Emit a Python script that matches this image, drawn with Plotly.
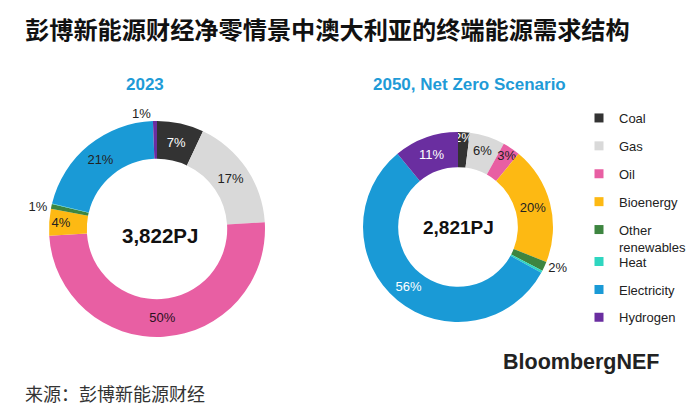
import plotly.graph_objects as go

categories = ["Coal", "Gas", "Oil", "Bioenergy", "Other<br>renewables", "Heat", "Electricity", "Hydrogen"]
colors = ["#333333", "#d9d9d9", "#e85fa3", "#fdb913", "#3d8540", "#2fd6c0", "#1a9ad6", "#6a2ea0"]
legend_ids = ["legend", "legend", "legend", "legend", "legend", "legend2", "legend2", "legend2"]

values_2023 = [7, 17, 50, 4, 0.7, 0.1, 20.6, 0.6]
values_2050 = [2, 6, 3, 20, 1.6, 0.4, 56, 11]

textpos_2023 = ["inside", "inside", "inside", "inside", "outside", "none", "inside", "outside"]
textpos_2050 = ["inside", "inside", "inside", "inside", "outside", "none", "inside", "inside"]
textcol_2023 = ["#ffffff", "#222222", "#2a1020", "#222222", "#222222", "#222222", "#222222", "#222222"]
textcol_2050 = ["#ffffff", "#222222", "#222222", "#222222", "#222222", "#222222", "#ffffff", "#ffffff"]

total_2023 = "3,822PJ"
total_2050 = "2,821PJ"

FONT = "Liberation Sans, Arial, sans-serif"
W, H = 700, 410

dom_2023 = dict(x=[49 / W, 265 / W], y=[1 - 337 / H, 1 - 121 / H])
dom_2050 = dict(x=[363 / W, 553 / W], y=[1 - 322 / H, 1 - 132 / H])

fig = go.Figure()

fig.add_trace(go.Pie(
    labels=categories, values=values_2023, sort=False, direction="clockwise", rotation=0,
    hole=0.65, marker=dict(colors=colors, line=dict(width=0)),
    texttemplate="%{percent:.0%}", textposition=textpos_2023,
    insidetextorientation="horizontal",
    insidetextfont=dict(color=textcol_2023, size=13, family=FONT),
    outsidetextfont=dict(color="#222222", size=13, family=FONT),
    domain=dom_2023, showlegend=False, hoverinfo="label+percent",
))
fig.add_trace(go.Pie(
    labels=categories, values=values_2050, sort=False, direction="clockwise", rotation=0,
    hole=0.63, marker=dict(colors=colors, line=dict(width=0)),
    texttemplate="%{percent:.0%}", textposition=textpos_2050,
    insidetextorientation="horizontal",
    insidetextfont=dict(color=textcol_2050, size=13, family=FONT),
    outsidetextfont=dict(color="#222222", size=13, family=FONT),
    domain=dom_2050, showlegend=False, hoverinfo="label+percent",
))

# legend entries
for name, col, lg in zip(categories, colors, legend_ids):
    fig.add_trace(go.Scatter(
        x=[None], y=[None], mode="markers", name=name, legendgroup=name, legend=lg,
        marker=dict(symbol="square", size=9, color=col),
    ))

legend_common = dict(
    xanchor="left", yanchor="top",
    font=dict(size=13, color="#222222", family=FONT),
    traceorder="grouped", tracegroupgap=8, itemwidth=30,
    valign="top", bgcolor="rgba(0,0,0,0)",
    itemclick=False, itemdoubleclick=False,
)

fig.update_layout(
    width=W, height=H,
    margin=dict(l=0, r=0, t=0, b=0),
    paper_bgcolor="white", plot_bgcolor="white",
    font=dict(family=FONT, color="#222222"),
    uniformtext=dict(minsize=13, mode="show"),
    xaxis=dict(visible=False), yaxis=dict(visible=False),
    legend=dict(x=579 / W, y=1 - 103 / H, **legend_common),
    legend2=dict(x=579 / W, y=1 - 246.6 / H, **legend_common),
    annotations=[
        dict(text="<b>彭博新能源财经净零情景中澳大利亚的终端能源需求结构</b>", x=23 / W, y=1 - 29 / H,
             xref="paper", yref="paper", showarrow=False, xanchor="left", yanchor="middle",
             font=dict(family="Noto Sans CJK SC", size=24.2, color="#111111")),
        dict(text="<b>2023</b>", x=145 / W, y=1 - 85 / H, xref="paper", yref="paper", showarrow=False,
             xanchor="center", yanchor="middle", font=dict(size=17, color="#1f9bd7", family=FONT)),
        dict(text="<b>2050, Net Zero Scenario</b>", x=469 / W, y=1 - 85 / H, xref="paper", yref="paper",
             showarrow=False, xanchor="center", yanchor="middle",
             font=dict(size=17, color="#1f9bd7", family=FONT)),
        dict(text="<b>" + total_2023 + "</b>", x=sum(dom_2023["x"]) / 2 + 3 / W,
             y=sum(dom_2023["y"]) / 2 - 6 / H,
             xref="paper", yref="paper", showarrow=False, xanchor="center", yanchor="middle",
             font=dict(size=20.5, color="#111111", family=FONT)),
        dict(text="<b>" + total_2050 + "</b>", x=sum(dom_2050["x"]) / 2, y=sum(dom_2050["y"]) / 2,
             xref="paper", yref="paper", showarrow=False, xanchor="center", yanchor="middle",
             font=dict(size=19, color="#111111", family=FONT)),
        dict(text="<b>BloombergNEF</b>", x=661 / W, y=1 - 362 / H, xref="paper", yref="paper",
             showarrow=False, xanchor="right", yanchor="middle",
             font=dict(size=21.5, color="#222222", family=FONT)),
        dict(text="来源：彭博新能源财经", x=23 / W, y=1 - 393 / H, xref="paper", yref="paper",
             showarrow=False, xanchor="left", yanchor="middle",
             font=dict(size=18, color="#333333", family="Noto Sans CJK SC")),
    ],
)

fig.write_html("out.html", config={"displayModeBar": False},
               post_script="document.body.style.margin='0';")
